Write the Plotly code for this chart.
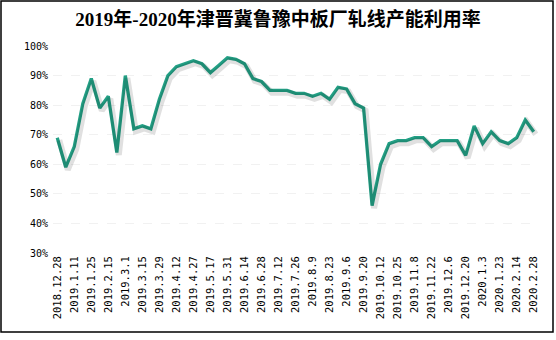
import plotly.graph_objects as go

title_text = "2019年-2020年津晋冀鲁豫中板厂轧线产能利用率"

tick_labels = [
    "2018.12.28", "2019.1.11", "2019.1.25", "2019.2.15", "2019.3.1", "2019.3.15",
    "2019.3.29", "2019.4.12", "2019.4.27", "2019.5.17", "2019.5.31", "2019.6.14",
    "2019.6.28", "2019.7.12", "2019.7.26", "2019.8.9", "2019.8.23", "2019.9.6",
    "2019.9.20", "2019.10.12", "2019.10.25", "2019.11.8", "2019.11.22", "2019.12.6",
    "2019.12.20", "2020.1.3", "2020.1.23", "2020.2.14", "2020.2.28",
]

utilization = [
    69, 59, 66, 80.5, 89, 79, 83, 64, 90, 72,
    73, 72, 82, 90, 93, 94, 95, 94, 91, 93.5,
    96, 95.5, 94, 89, 88, 85, 85, 85, 84, 84,
    83, 84, 82, 86, 85.5, 80.5, 79, 46, 60, 67,
    68, 68, 69, 69, 66, 68, 68, 68, 63, 73,
    67, 71, 68, 67, 69, 75, 71,
]

y_ticks = [30, 40, 50, 60, 70, 80, 90, 100]

idx = list(range(len(utilization)))
tick_pos = idx[::2]

LINE_COLOR = "#23a085"

fig = go.Figure()

# soft shadow of the line (same data on slightly offset overlay axes)
fig.add_trace(go.Scatter(
    x=idx, y=utilization, mode="lines",
    line=dict(color="rgba(0,0,0,0.12)", width=6),
    xaxis="x2", yaxis="y2", hoverinfo="skip", showlegend=False,
))
fig.add_trace(go.Scatter(
    x=idx, y=utilization, mode="lines",
    line=dict(color=LINE_COLOR, width=3.3),
    showlegend=False,
))

L, R, T, B = 53, 18, 46, 87
W, H = 556, 340
pw, ph = W - L - R, H - T - B

def px(xp):
    return (xp - L) / pw

def py(yp):
    return (H - B - yp) / ph

n = len(utilization)
xr = [-0.5, n - 0.5]
yr = [30, 100]
ux = pw / (xr[1] - xr[0])
uy = ph / (yr[1] - yr[0])

fig.update_layout(
    width=W, height=H,
    margin=dict(l=L, r=R, t=T, b=B),
    paper_bgcolor="white", plot_bgcolor="white",
    title=dict(
        text=title_text, x=0.5, xanchor="center", y=1 - 19 / H, yanchor="middle",
        yref="container",
        font=dict(family="Liberation Serif, 'Noto Sans CJK SC'", size=19, color="black", weight="bold"),
    ),
    xaxis=dict(
        range=xr, tickmode="array", tickvals=tick_pos, ticktext=tick_labels,
        tickangle=-90, showgrid=False, zeroline=False, showline=False, ticks="",
        tickfont=dict(family="DejaVu Sans Mono", size=10.5, color="black"),
    ),
    yaxis=dict(
        range=yr, tickmode="array", tickvals=y_ticks,
        ticktext=[f"{v}%" for v in y_ticks],
        showgrid=True, gridcolor="#f1f1f1", griddash="dash", gridwidth=1,
        zeroline=False, showline=False, ticks="", ticklabelstandoff=4,
        tickfont=dict(family="DejaVu Sans Mono", size=10, color="black"),
    ),
    xaxis2=dict(
        range=[xr[0] - 2 / ux, xr[1] - 2 / ux], overlaying="x", visible=False,
    ),
    yaxis2=dict(
        range=[yr[0] + 2.5 / uy, yr[1] + 2.5 / uy], overlaying="y", visible=False,
    ),
    shapes=[dict(
        type="rect", xref="paper", yref="paper",
        x0=px(1), x1=px(553), y0=py(332), y1=py(1),
        line=dict(color="black", width=1.5), fillcolor="rgba(0,0,0,0)", layer="above",
    )],
)

fig.write_html("out.html")
